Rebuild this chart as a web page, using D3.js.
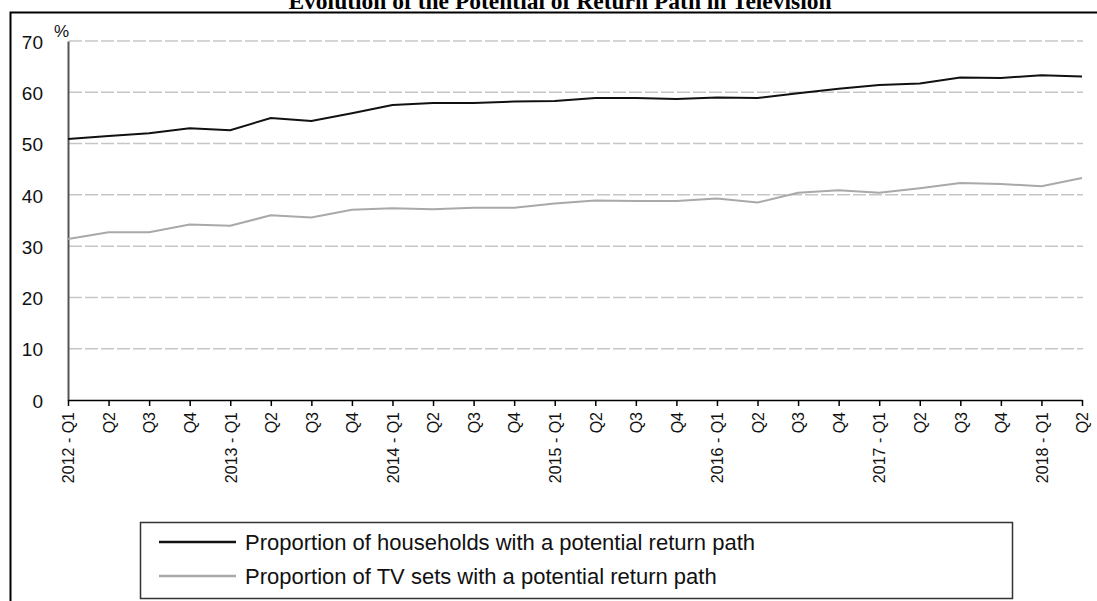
<!DOCTYPE html>
<html>
<head>
<meta charset="utf-8">
<script src="https://cdn.jsdelivr.net/npm/d3@7"></script>
<style>
  body { margin: 0; background: #fff; }
  svg { display: block; }
</style>
</head>
<body>
<script>
const quarters = ['2012 - Q1', 'Q2', 'Q3', 'Q4', '2013 - Q1', 'Q2', 'Q3', 'Q4',
  '2014 - Q1', 'Q2', 'Q3', 'Q4', '2015 - Q1', 'Q2', 'Q3', 'Q4',
  '2016 - Q1', 'Q2', 'Q3', 'Q4', '2017 - Q1', 'Q2', 'Q3', 'Q4',
  '2018 - Q1', 'Q2'];

const households = [50.9, 51.5, 52.0, 53.0, 52.6, 55.0, 54.4, 55.9,
  57.5, 57.9, 57.9, 58.2, 58.3, 58.9, 58.9, 58.7,
  59.0, 58.9, 59.8, 60.7, 61.4, 61.7, 62.9, 62.8,
  63.3, 63.1];

const tvSets = [31.4, 32.7, 32.7, 34.2, 34.0, 36.0, 35.6, 37.1,
  37.4, 37.2, 37.5, 37.5, 38.3, 38.9, 38.8, 38.8,
  39.3, 38.5, 40.4, 40.9, 40.4, 41.3, 42.3, 42.1,
  41.7, 43.3];

const yTicks = [0, 10, 20, 30, 40, 50, 60, 70];

const seriesNames = ['Proportion of households with a potential return path',
  'Proportion of TV sets with a potential return path'];

const width = 1097;
const height = 601;

const svg = d3.select('body').append('svg')
  .attr('width', width)
  .attr('height', height);

// outer frame (runs off the right and bottom edges)
svg.append('rect')
  .attr('x', 10.5).attr('y', 12.5)
  .attr('width', 1100).attr('height', 600)
  .attr('fill', 'none')
  .attr('stroke', '#000')
  .attr('stroke-width', 2);

// title, clipped at the top like the source
svg.append('text')
  .attr('x', 560)
  .attr('y', 9)
  .attr('text-anchor', 'middle')
  .style('font-family', '"Liberation Serif", "Times New Roman", serif')
  .style('font-weight', 'bold')
  .style('font-size', '23.5px')
  .text('Evolution of the Potential of Return Path in Television');

const x = d3.scalePoint()
  .domain(d3.range(quarters.length))
  .range([68, 1082]);

const y = d3.scaleLinear()
  .domain([0, 70])
  .range([400, 41]);

// dashed gridlines
svg.append('g')
  .selectAll('line')
  .data(yTicks.filter((d) => d > 0))
  .enter()
  .append('line')
  .attr('x1', 69)
  .attr('x2', 1083)
  .attr('y1', (d) => y(d))
  .attr('y2', (d) => y(d))
  .attr('stroke', '#c6c6c6')
  .attr('stroke-width', 1.5)
  .attr('stroke-dasharray', '13,3');

// y axis
const yAxis = d3.axisLeft(y).tickValues(yTicks).tickSize(0).tickPadding(25);
const gy = svg.append('g')
  .attr('transform', 'translate(68,0)')
  .call(yAxis);
gy.select('.domain').attr('stroke', '#555').attr('stroke-width', 2);
gy.selectAll('text')
  .attr('dy', '0.38em')
  .style('font-family', '"Liberation Sans", Arial, sans-serif')
  .style('font-size', '19px')
  .attr('fill', '#111');

svg.append('text')
  .attr('x', 54)
  .attr('y', 37)
  .style('font-family', '"Liberation Sans", Arial, sans-serif')
  .style('font-size', '17px')
  .attr('fill', '#111')
  .text('%');

// x axis
const xAxis = d3.axisBottom(x)
  .tickFormat((i) => quarters[i])
  .tickSize(6)
  .tickSizeOuter(0)
  .tickPadding(0);
const gx = svg.append('g')
  .attr('transform', 'translate(0,400)')
  .call(xAxis);
gx.select('.domain').attr('stroke', '#000').attr('stroke-width', 1.5);
gx.selectAll('.tick line').attr('stroke', '#000').attr('stroke-width', 1.5);
gx.selectAll('text')
  .attr('transform', 'rotate(-90)')
  .attr('text-anchor', 'end')
  .attr('x', -12)
  .attr('y', 0)
  .attr('dy', '0.36em')
  .style('font-family', '"Liberation Sans", Arial, sans-serif')
  .style('font-size', '16px')
  .attr('fill', '#111');

// lines
const line = d3.line()
  .x((d, i) => x(i))
  .y((d) => y(d));

svg.append('path')
  .datum(tvSets)
  .attr('fill', 'none')
  .attr('stroke', '#a9a9a9')
  .attr('stroke-width', 2)
  .attr('d', line);

svg.append('path')
  .datum(households)
  .attr('fill', 'none')
  .attr('stroke', '#111')
  .attr('stroke-width', 2)
  .attr('d', line);

// legend
const legend = svg.append('g');
legend.append('rect')
  .attr('x', 140.5).attr('y', 522.5)
  .attr('width', 872).attr('height', 76)
  .attr('fill', '#fff')
  .attr('stroke', '#333')
  .attr('stroke-width', 1.5);

const legendColors = ['#111', '#a9a9a9'];
const legendRows = legend.selectAll('g.row')
  .data(seriesNames)
  .enter()
  .append('g')
  .attr('class', 'row')
  .attr('transform', (d, i) => `translate(0, ${542 + i * 34})`);

legendRows.append('line')
  .attr('x1', 159).attr('x2', 236)
  .attr('y1', 0).attr('y2', 0)
  .attr('stroke', (d, i) => legendColors[i])
  .attr('stroke-width', 2.5);

legendRows.append('text')
  .attr('x', 245)
  .attr('y', 8)
  .style('font-family', '"Liberation Sans", Arial, sans-serif')
  .style('font-size', '22px')
  .attr('fill', '#111')
  .text((d) => d);
</script>
</body>
</html>
